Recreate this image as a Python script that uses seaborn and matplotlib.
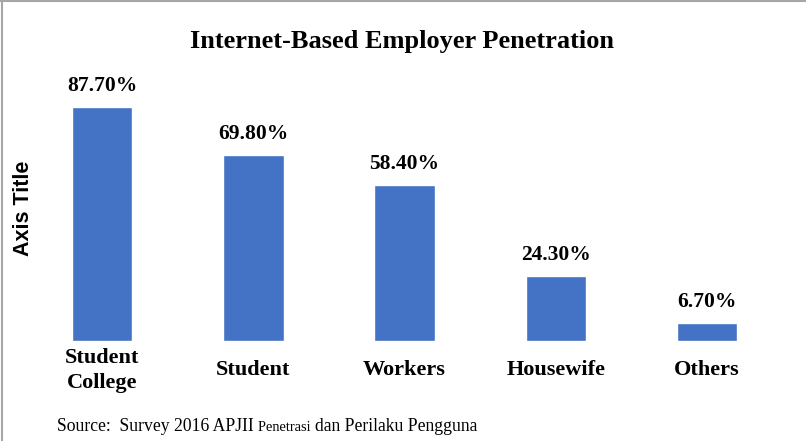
import pandas as pd
import matplotlib.pyplot as plt
import seaborn as sns
from matplotlib.lines import Line2D

# data
categories = ["Student\nCollege", "Student", "Workers", "Housewife", "Others"]
penetration = [87.7, 69.8, 58.4, 24.3, 6.7]
value_labels = ["87.70%", "69.80%", "58.40%", "24.30%", "6.70%"]

chart_title = "Internet-Based Employer Penetration"
y_title = "Axis Title"

sns.set_style("white")
plt.rcParams["font.family"] = ["Liberation Serif", "DejaVu Serif"]
plt.rcParams["text.color"] = "black"
plt.rcParams["xtick.color"] = "black"

df = pd.DataFrame({"group": categories, "value": penetration})

fig = plt.figure(figsize=(8.06, 4.41), dpi=100)
ax = fig.add_axes([0.033, 0.2268, 0.938, 0.605])

sns.barplot(data=df, x="group", y="value", color="#4472C4", width=0.4,
            saturation=1, ax=ax)
ax.set_ylim(0, 100)
ax.set_xlim(-0.5, 4.5)
sns.despine(ax=ax, left=True, bottom=True)
ax.set_yticks([])
ax.set_xlabel("")
ax.set_ylabel("")

ax.bar_label(ax.containers[0], labels=value_labels, padding=8,
             fontsize=15.5, fontweight="bold", color="black")

ax.tick_params(axis="x", length=0, pad=21, labelsize=16, labelcolor="black")
for lbl in ax.get_xticklabels():
    lbl.set_fontweight("bold")
    lbl.set_verticalalignment("center")
    lbl.set_linespacing(1.35)

fig.text(0.499, 0.905, chart_title, ha="center", va="center",
         fontsize=19, fontweight="bold")
fig.text(0.029, 0.528, y_title, rotation=90, ha="center", va="center",
         fontsize=15.5, fontweight="bold", family=["Liberation Sans", "DejaVu Sans"])

# source line, mixed sizes like the original
src1 = fig.text(0.071, 0.023, "Source:  Survey 2016 APJII ", fontsize=12.7, va="baseline")
src2 = fig.text(0, 0, "Penetrasi ", fontsize=10.4, va="baseline")
src3 = fig.text(0, 0, "dan Perilaku Pengguna", fontsize=12.7, va="baseline")
fig.canvas.draw()
r = fig.canvas.get_renderer()
bb = src1.get_window_extent(r)
src2.set_position((bb.x1 / fig.bbox.width, 0.023))
bb = src2.get_window_extent(r)
src3.set_position((bb.x1 / fig.bbox.width, 0.023))

# thin gray frame on top and left edge
fig.add_artist(Line2D([0.002, 0.002], [0, 0.998], color="#a6a6a6", lw=1.5,
                      transform=fig.transFigure))
fig.add_artist(Line2D([0, 1], [0.998, 0.998], color="#a6a6a6", lw=1.5,
                      transform=fig.transFigure))

fig.savefig("out.png", dpi=100)
